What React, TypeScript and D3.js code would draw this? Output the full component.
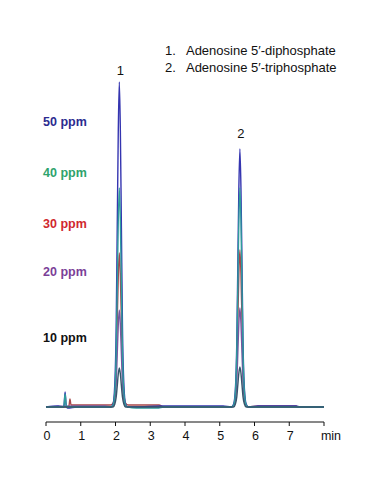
import React from "react";
import * as d3 from "d3";

// time grid (min) around each peak
const peak1Times = [1.86, 1.93, 1.98, 2.02, 2.05, 2.08, 2.11, 2.14, 2.17, 2.2, 2.24, 2.29, 2.36];
const peak2Times = [5.33, 5.4, 5.45, 5.49, 5.52, 5.55, 5.58, 5.61, 5.64, 5.67, 5.71, 5.76, 5.83];

// signal (arbitrary units)
const peak1_50 = [0, 3, 23, 81, 179, 276, 325, 276, 179, 81, 23, 3, 0];
const peak1_40 = [0, 2, 15, 55, 120, 186, 219, 186, 120, 55, 15, 2, 0];
const peak1_30 = [2, 4, 13, 40, 86, 131, 154, 131, 86, 40, 13, 4, 2];
const peak1_20 = [0, 1, 7, 24, 53, 82, 97, 82, 53, 24, 7, 1, 0];
const peak1_10 = [0, 0, 3, 10, 21, 33, 39, 33, 21, 10, 3, 0, 0];

const peak2_50 = [0, 3, 18, 64, 142, 219, 258, 219, 142, 64, 18, 3, 0];
const peak2_40 = [0, 2, 15, 55, 120, 186, 219, 186, 120, 55, 15, 2, 0];
const peak2_30 = [0, 2, 11, 39, 86, 133, 157, 133, 86, 39, 11, 2, 0];
const peak2_20 = [0, 1, 7, 25, 54, 84, 99, 84, 54, 25, 7, 1, 0];
const peak2_10 = [0, 0, 3, 10, 22, 34, 40, 34, 22, 10, 3, 0, 0];

// baseline stretches before / between / after the peaks
const lead50: [number, number][] = [[0, 0], [0.35, 1], [0.5, 0], [0.52, 2], [0.55, 15], [0.58, 2], [0.62, -1], [0.9, 0], [1.7, 0]];
const lead40: [number, number][] = [[0, 0], [0.3, 0], [0.5, 0], [0.52, 2], [0.55, 13], [0.58, 2], [0.62, 0], [1.7, 0]];
const lead30: [number, number][] = [[0, 0], [0.6, 0], [0.66, 1], [0.69, 8], [0.72, 2], [0.8, 2], [1.7, 2]];
const lead20: [number, number][] = [[0, 0], [0.9, 1], [1.7, 1]];
const lead10: [number, number][] = [[0, 0], [0.4, 0], [1.7, 0]];

const mid50: [number, number][] = [[2.6, 0], [3.3, 1], [5.1, 1]];
const mid40: [number, number][] = [[2.6, -1], [3.2, -1], [3.4, 0], [5.1, 0]];
const mid30: [number, number][] = [[2.6, 2], [3.25, 2], [3.4, 0], [5.1, 0]];
const mid20: [number, number][] = [[2.6, 0], [5.1, 0]];
const mid10: [number, number][] = [[2.6, 0], [5.1, 0]];

const tail50: [number, number][] = [[6.1, 1], [7.2, 1], [7.3, 0], [8, 0]];
const tail40: [number, number][] = [[6.1, 0], [8, 0]];
const tail30: [number, number][] = [[6.1, 1], [7.2, 1], [7.25, 0], [8, 0]];
const tail20: [number, number][] = [[6.1, 0], [8, 0]];
const tail10: [number, number][] = [[6.1, 0], [8, 0]];

const labels = ["50 ppm", "40 ppm", "30 ppm", "20 ppm", "10 ppm"];
const labelColors = ["#2b2b8f", "#2ea36c", "#d0282e", "#7b3f98", "#111111"];
const traceColors = ["#3535b0", "#2f9c9c", "#a8474a", "#7a55a0", "#36566a"];
const labelLevels = [286, 235, 184, 136, 70];

const xTicks = [0, 1, 2, 3, 4, 5, 6, 7, 8];
const xTickLabels = ["0", "1", "2", "3", "4", "5", "6", "7", ""];
const peakNames = ["1.   Adenosine 5\u2032-diphosphate", "2.   Adenosine 5\u2032-triphosphate"];
const peakIds = ["1", "2"];
const peakApex = [[2.11, 325], [5.58, 258]];

const W = 387;
const H = 503;

function zipPeak(times: number[], vals: number[]): [number, number][] {
  return times.map((t, i) => [t, vals[i]] as [number, number]);
}

const traces: [number, number][][] = [
  [...lead50, ...zipPeak(peak1Times, peak1_50), ...mid50, ...zipPeak(peak2Times, peak2_50), ...tail50],
  [...lead40, ...zipPeak(peak1Times, peak1_40), ...mid40, ...zipPeak(peak2Times, peak2_40), ...tail40],
  [...lead30, ...zipPeak(peak1Times, peak1_30), ...mid30, ...zipPeak(peak2Times, peak2_30), ...tail30],
  [...lead20, ...zipPeak(peak1Times, peak1_20), ...mid20, ...zipPeak(peak2Times, peak2_20), ...tail20],
  [...lead10, ...zipPeak(peak1Times, peak1_10), ...mid10, ...zipPeak(peak2Times, peak2_10), ...tail10],
];
// back to front
const drawOrder = [2, 3, 0, 1, 4];

export default function App() {
  const x = d3.scaleLinear().domain([0, 8]).range([46, 324]);
  const y = d3.scaleLinear().domain([0, 340]).range([407, 67]);
  const line = d3
    .line<[number, number]>()
    .x((d) => x(d[0]))
    .y((d) => y(d[1]))
    .curve(d3.curveMonotoneX);
  const axisY = 422;
  const font = "Arial, 'Liberation Sans', sans-serif";

  return (
    <svg
      width={W}
      height={H}
      style={{ position: "absolute", left: 0, top: 0, background: "#fff" }}
      fontFamily={font}
    >
      {drawOrder.map((i) => (
        <path key={i} d={line(traces[i]) || ""} fill="none" stroke={traceColors[i]} strokeWidth={1.4} />
      ))}

      {labels.map((l, i) => (
        <text key={l} x={43} y={y(labelLevels[i]) + 4.5} fontSize={12.5} fontWeight="bold" fill={labelColors[i]}>
          {l}
        </text>
      ))}

      {peakIds.map((p, i) => (
        <text key={p} x={x(peakApex[i][0]) + 1} y={y(peakApex[i][1]) - 7 - i * 4} fontSize={13} textAnchor="middle" fill="#111">
          {p}
        </text>
      ))}

      {peakNames.map((n, i) => (
        <text key={n} x={165} y={55 + i * 17} fontSize={13} fill="#111" style={{ whiteSpace: "pre" }}>
          {n}
        </text>
      ))}

      <line x1={x(0)} x2={x(8)} y1={axisY} y2={axisY} stroke="#111" strokeWidth={1} />
      {xTicks.map((t, i) => (
        <g key={t} transform={`translate(${x(t)},${axisY})`}>
          <line y1={0} y2={4} stroke="#111" />
          <text x={1} y={17.5} textAnchor="middle" fontSize={12.5} fill="#111">
            {xTickLabels[i]}
          </text>
        </g>
      ))}
      <text x={x(8) + 7} y={axisY + 17.5} textAnchor="middle" fontSize={12.5} fill="#111">
        min
      </text>
    </svg>
  );
}
